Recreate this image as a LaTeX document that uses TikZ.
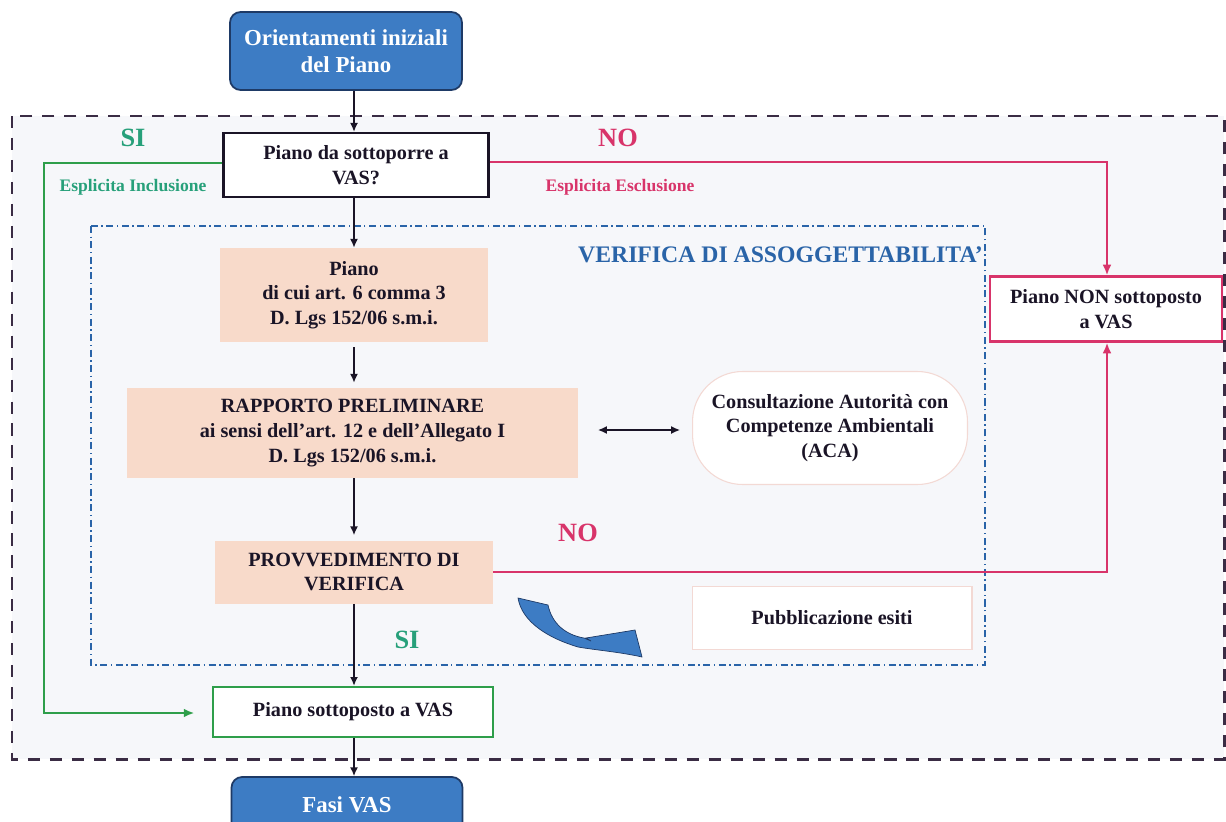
\documentclass[tikz,border=0pt]{standalone}
\usepackage{fontspec}
\setmainfont{Liberation Serif}
\usetikzlibrary{arrows.meta}
\definecolor{nodeblue}{HTML}{3D7CC4}
\definecolor{navy}{HTML}{1E3A66}
\definecolor{outerdash}{HTML}{3A2C44}
\definecolor{salmon}{HTML}{F8DACA}
\definecolor{okgreen}{HTML}{2E9E4A}
\definecolor{tealtxt}{HTML}{27A07A}
\definecolor{nored}{HTML}{D8346A}
\definecolor{verblue}{HTML}{2A64A8}
\definecolor{faintpink}{HTML}{F3D9D4}
\definecolor{bgtint}{HTML}{F6F7FA}
\definecolor{txt}{HTML}{1A1426}
\tikzset{
  bluebox/.style={draw=navy, line width=1pt, fill=nodeblue, rounded corners=6pt, text=white,
    font=\bfseries\fontsize{13}{15.5}\selectfont, align=center, inner sep=0pt},
  salmonbox/.style={fill=salmon, text=txt, font=\bfseries\fontsize{11.5}{14}\selectfont, align=center, inner sep=0pt},
  plainbox/.style={line width=1.4pt, fill=white, text=txt, font=\bfseries\fontsize{11.5}{14}\selectfont, align=center, inner sep=0pt},
  faintbox/.style={draw=faintpink, line width=0.6pt, fill=white, text=txt, font=\bfseries\fontsize{11.5}{14}\selectfont, align=center, inner sep=0pt},
  darrow/.style={draw=txt, line width=0.8pt, -{Latex[length=5pt,width=4.5pt]}},
  garrow/.style={draw=okgreen, line width=1.1pt, -{Latex[length=6pt,width=5pt]}},
  rarrow/.style={draw=nored, line width=1.1pt, -{Latex[length=6pt,width=5pt]}},
  bigword/.style={font=\bfseries\fontsize{15}{17}\selectfont},
  smallword/.style={font=\bfseries\fontsize{10}{12}\selectfont},
}
\begin{document}
\begin{tikzpicture}[x=0.02cm,y=-0.02cm]
\useasboundingbox (0,0) rectangle (1226,821);
\fill[white] (0,0) rectangle (1226,821);
\fill[bgtint] (12,116) rectangle (1224,759);
% outer dashed frame
\draw[outerdash, line width=1.7pt, dash pattern=on 7pt off 5.5pt] (12,116) rectangle (1224,759);
% inner dash-dot frame
\draw[verblue, line width=0.8pt, dash pattern=on 4pt off 2pt on 0.8pt off 2pt] (91,226) rectangle (985,665);

% nodes
\node[bluebox, minimum width=4.64cm, minimum height=1.56cm] (top) at (346,51) {Orientamenti iniziali\\del Piano};
\node[plainbox, draw=txt, minimum width=5.3cm, minimum height=1.28cm] (vas) at (356,165) {Piano da sottoporre a\\VAS?};
\node[salmonbox, minimum width=5.36cm, minimum height=1.88cm] (piano) at (354,295) {Piano\\di cui art. 6 comma 3\\D. Lgs 152/06 s.m.i.};
\node[salmonbox, minimum width=9.02cm, minimum height=1.8cm] (rapp) at (352.5,433) {RAPPORTO PRELIMINARE\\ai sensi dell’art. 12 e dell’Allegato I\\D. Lgs 152/06 s.m.i.};
\node[salmonbox, minimum width=5.56cm, minimum height=1.26cm] (provv) at (354,572) {PROVVEDIMENTO DI\\VERIFICA};
\node[plainbox, draw=okgreen, minimum width=5.6cm, minimum height=1.0cm] (sott) at (353,712) {Piano sottoposto a VAS};
\node[bluebox, minimum width=4.62cm, minimum height=1.12cm] (fasi) at (347,805) {Fasi VAS};
\node[plainbox, draw=nored, minimum width=4.64cm, minimum height=1.3cm] (non) at (1106,309) {Piano NON sottoposto\\a VAS};
\node[faintbox, rounded corners=1cm, minimum width=5.5cm, minimum height=2.26cm] (cons) at (830,428) {Consultazione Autorità con\\Competenze Ambientali\\(ACA)};
\node[faintbox, minimum width=5.6cm, minimum height=1.26cm] (pubb) at (832,618) {Pubblicazione esiti};

% labels
\node[bigword, text=tealtxt] (si1) at (133,138) {SI};
\node[smallword, text=tealtxt] (incl) at (133,187) {Esplicita Inclusione};
\node[bigword, text=nored] (no1) at (618,138) {NO};
\node[smallword, text=nored] (escl) at (620,187) {Esplicita Esclusione};
\node[font=\bfseries\fontsize{13.5}{16}\selectfont, text=verblue, anchor=east] (ver) at (989,255) {VERIFICA DI ASSOGGETTABILITA'};
\node[bigword, text=nored] (no2) at (578,533) {NO};
\node[bigword, text=tealtxt] (si2) at (407,640) {SI};

% coordinates for bends
\coordinate (gl) at (44,163);
\coordinate (gb) at (44,713);
\coordinate (rt) at (1107,162);
\coordinate (rb) at (1107,572);
\coordinate (dl) at (598,430);
\coordinate (dr) at (680,430);

% connectors
\draw[darrow] (top.south -| 354,0) -- (vas.north -| 354,0);
\draw[darrow] (vas.south -| 354,0) -- (piano.north -| 354,0);
\draw[darrow] ([yshift=-0.1cm]piano.south -| 354,0) -- ([yshift=0.1cm]rapp.north -| 354,0);
\draw[darrow] (rapp.south -| 354,0) -- ([yshift=0.1cm]provv.north -| 354,0);
\draw[darrow] (provv.south -| 354,0) -- (sott.north -| 354,0);
\draw[darrow] (sott.south -| 354,0) -- (fasi.north -| 354,0);
\draw[draw=txt, line width=0.8pt, {Latex[length=5pt,width=4.5pt]}-{Latex[length=5pt,width=4.5pt]}] (dl) -- (dr);
\draw[garrow] (vas.west |- gl) -- (gl) -- (gb) -- ([xshift=-0.35cm]sott.west |- gb);
\draw[rarrow] (vas.east |- rt) -- (rt) -- (non.north -| rt);
\draw[rarrow] (provv.east |- rb) -- (rb) -- (non.south -| rb);

% blue curved arrow
\fill[nodeblue, draw=navy, line width=0.4pt]
  (518,598) -- (548,605) .. controls (552,624) and (566,635) .. (584,638)
  -- (591,641) -- (586,638) -- (635,630) -- (642,657)
  .. controls (620,652) and (595,650) .. (578,647)
  .. controls (548,638) and (522,622) .. cycle;
\end{tikzpicture}
\end{document}
